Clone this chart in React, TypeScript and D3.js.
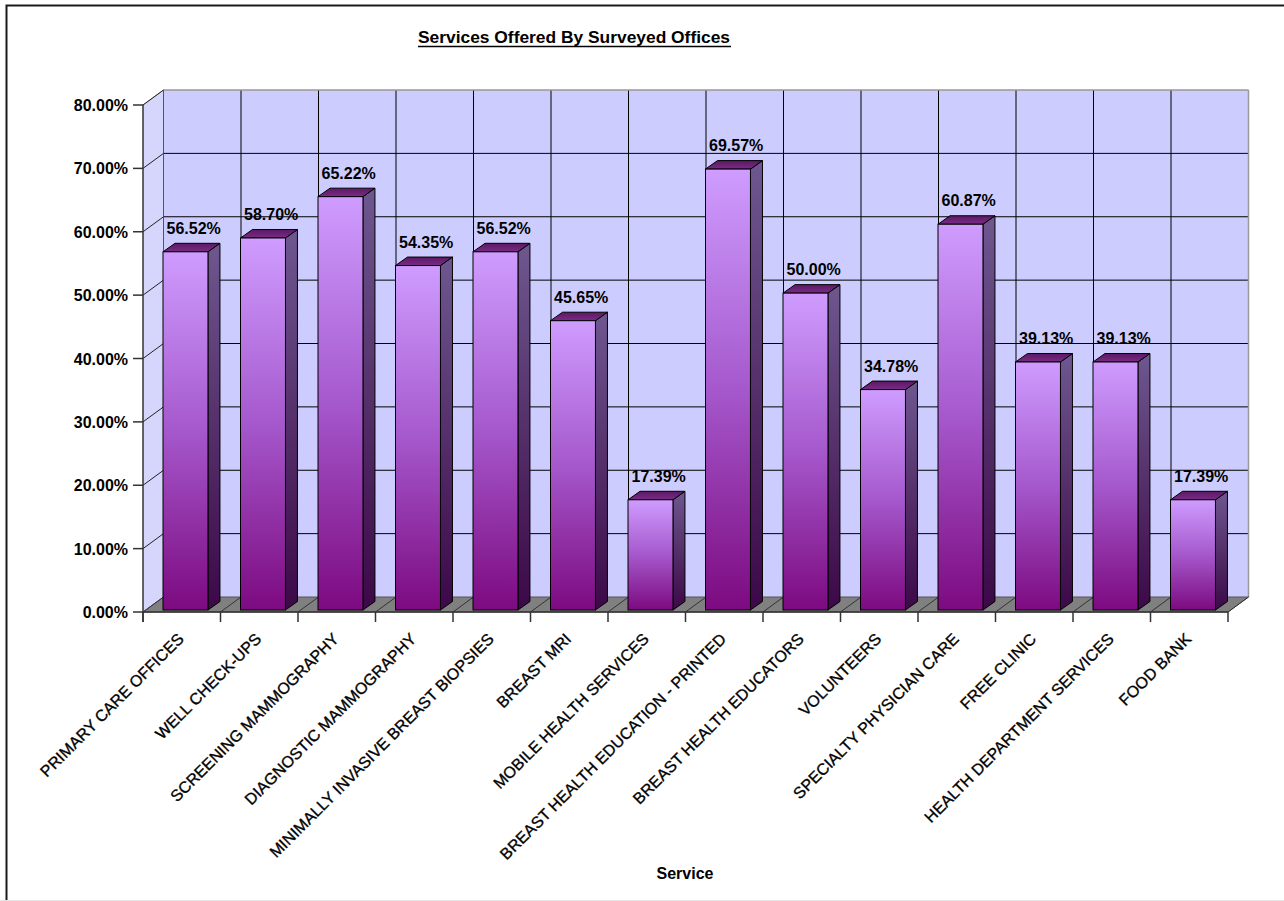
import React from "react";
import * as d3 from "d3";

const categories = [
  "PRIMARY CARE OFFICES",
  "WELL CHECK-UPS",
  "SCREENING MAMMOGRAPHY",
  "DIAGNOSTIC MAMMOGRAPHY",
  "MINIMALLY INVASIVE BREAST BIOPSIES",
  "BREAST MRI",
  "MOBILE HEALTH SERVICES",
  "BREAST HEALTH EDUCATION - PRINTED",
  "BREAST HEALTH EDUCATORS",
  "VOLUNTEERS",
  "SPECIALTY PHYSICIAN CARE",
  "FREE CLINIC",
  "HEALTH DEPARTMENT SERVICES",
  "FOOD BANK",
];
const values = [56.52, 58.7, 65.22, 54.35, 56.52, 45.65, 17.39, 69.57, 50.0, 34.78, 60.87, 39.13, 39.13, 17.39];
const yTicks = [0, 10, 20, 30, 40, 50, 60, 70, 80];
const title = "Services Offered By Surveyed Offices";
const xTitle = "Service";

const W = 1284;
const H = 901;
const DX = 20.5;
const DY = -15;
const FONT = "'Liberation Sans', Arial, sans-serif";

export default function App() {
  const x = d3.scaleBand<string>().domain(categories).range([143, 1228]).padding(0);
  const y = d3.scaleLinear().domain([0, 80]).range([612, 105]);
  const bw = x.bandwidth();
  const barW = bw * 0.58;
  const fOff = [3, -2];
  const bOff = [15, -10.5];
  const fmt = (v: number) => v.toFixed(2) + "%";
  const x0 = x.range()[0];
  const x1 = x.range()[1];
  const yTop = y(80);
  const yBot = y(0);

  const pts = (arr: number[][]) => arr.map((p) => p.join(",")).join(" ");

  return (
    <svg width={W} height={H} style={{ position: "absolute", left: 0, top: 0, background: "#fff" }}>
      <defs>
        <linearGradient id="gFront" x1="0" y1="0" x2="0" y2="1">
          <stop offset="0" stopColor="#cf9cff" />
          <stop offset="0.5" stopColor="#a558cc" />
          <stop offset="1" stopColor="#7d0a80" />
        </linearGradient>
        <linearGradient id="gSide" x1="0" y1="0" x2="0" y2="1">
          <stop offset="0" stopColor="#6e5790" />
          <stop offset="0.5" stopColor="#55306a" />
          <stop offset="1" stopColor="#3c0848" />
        </linearGradient>
        <linearGradient id="gTop" x1="0" y1="1" x2="0" y2="0">
          <stop offset="0" stopColor="#7c2a86" />
          <stop offset="1" stopColor="#5a1a64" />
        </linearGradient>
      </defs>
      <rect x={0} y={0} width={W} height={H} fill="#fff" />
      <rect x={6.5} y={5.5} width={1300} height={920} fill="none" stroke="#1a1a1a" strokeWidth={2} />
      <line x1={0} x2={W} y1={900.5} y2={900.5} stroke="#e6e6e6" strokeWidth={1} />

      {/* Title */}
      <text x={574} y={43} textAnchor="middle" fontFamily={FONT} fontWeight="bold" fontSize={16}
        textLength={312} lengthAdjust="spacingAndGlyphs" fill="#000">{title}</text>
      <line x1={418} x2={731} y1={46.5} y2={46.5} stroke="#000" strokeWidth={1.5} />

      {/* Left wall */}
      <polygon points={pts([[x0, yTop], [x0 + DX, yTop + DY], [x0 + DX, yBot + DY], [x0, yBot]])} fill="#d6d6fd" />
      {/* Back wall */}
      <rect x={x0 + DX} y={yTop + DY} width={x1 - x0} height={yBot - yTop} fill="#ccccff" />
      {yTicks.slice(1, -1).map((t) => (
        <line key={"h" + t} x1={x0 + DX} x2={x1 + DX} y1={y(t) + DY} y2={y(t) + DY} stroke="#000" strokeWidth={1} />
      ))}
      {categories.slice(1).map((c) => (
        <line key={"v" + c} x1={(x(c) as number) + DX} x2={(x(c) as number) + DX} y1={yTop + DY} y2={yBot + DY} stroke="#000" strokeWidth={1} />
      ))}
      <line x1={x0 + DX} x2={x1 + DX} y1={yTop + DY} y2={yTop + DY} stroke="#999" strokeWidth={1.5} />
      <line x1={x1 + DX} x2={x1 + DX} y1={yTop + DY} y2={yBot + DY} stroke="#999" strokeWidth={1.5} />
      <line x1={x0 + DX} x2={x0 + DX} y1={yTop + DY} y2={yBot + DY} stroke="#555" strokeWidth={1} />
      <line x1={x0} x2={x0 + DX} y1={yTop} y2={yTop + DY} stroke="#999" strokeWidth={1} />
      {yTicks.slice(1).map((t) => (
        <line key={"s" + t} x1={x0} x2={x0 + DX} y1={y(t)} y2={y(t) + DY} stroke="#222" strokeWidth={1} />
      ))}

      {/* Floor */}
      <polygon points={pts([[x0, yBot], [x1, yBot], [x1 + DX, yBot + DY], [x0 + DX, yBot + DY]])} fill="#808080" stroke="#555" strokeWidth={1} />
      {categories.map((c) => (
        <line key={"f" + c} x1={x(c) as number} x2={(x(c) as number) + DX} y1={yBot} y2={yBot + DY} stroke="#333" strokeWidth={1} />
      ))}
      <line x1={x1} x2={x1 + DX} y1={yBot} y2={yBot + DY} stroke="#333" strokeWidth={1} />

      {/* Y axis */}
      <line x1={x0} x2={x0} y1={yTop} y2={yBot + 10} stroke="#333" strokeWidth={1.5} />
      {yTicks.map((t) => (
        <g key={"yt" + t}>
          <line x1={x0 - 10} x2={x0} y1={y(t)} y2={y(t)} stroke="#333" strokeWidth={1.5} />
          <text x={128} y={y(t) + 6} textAnchor="end" fontFamily={FONT} fontWeight="bold" fontSize={16} fill="#000">
            {fmt(t)}
          </text>
        </g>
      ))}

      {/* X axis */}
      <line x1={x0} x2={x1} y1={yBot} y2={yBot} stroke="#333" strokeWidth={1.5} />
      {[...categories.map((c) => x(c) as number), x1].map((px, i) => (
        <line key={"xt" + i} x1={px} x2={px} y1={yBot} y2={yBot + 10} stroke="#333" strokeWidth={1.5} />
      ))}

      {/* Bars */}
      {categories.map((c, i) => {
        const v = values[i];
        const bx = (x(c) as number) + 17 + fOff[0];
        const by0 = yBot + fOff[1];
        const byT = y(v) + fOff[1];
        const ddx = bOff[0] - fOff[0];
        const ddy = bOff[1] - fOff[1];
        return (
          <g key={"b" + c}>
            <polygon
              points={pts([[bx + barW, byT], [bx + barW + ddx, byT + ddy], [bx + barW + ddx, by0 + ddy], [bx + barW, by0]])}
              fill="url(#gSide)" stroke="#000" strokeWidth={1}
            />
            <polygon
              points={pts([[bx, byT], [bx + ddx, byT + ddy], [bx + barW + ddx, byT + ddy], [bx + barW, byT]])}
              fill="url(#gTop)" stroke="#000" strokeWidth={1}
            />
            <rect x={bx} y={byT} width={barW} height={by0 - byT} fill="url(#gFront)" stroke="#000" strokeWidth={1} />
            <text x={bx + 3.5} y={byT - 18} fontFamily={FONT} fontWeight="bold" fontSize={16} fill="#000">
              {fmt(v)}
            </text>
          </g>
        );
      })}

      {/* X labels */}
      {categories.map((c) => {
        const cx = (x(c) as number) + bw / 2 + 3;
        return (
          <text key={"xl" + c} transform={`translate(${cx},640) rotate(-45)`} textAnchor="end"
            fontFamily={FONT} fontSize={16} fill="#000" stroke="#000" strokeWidth={0.35}>
            {c}
          </text>
        );
      })}

      <text x={685} y={879} textAnchor="middle" fontFamily={FONT} fontWeight="bold" fontSize={16} fill="#000">
        {xTitle}
      </text>
    </svg>
  );
}
